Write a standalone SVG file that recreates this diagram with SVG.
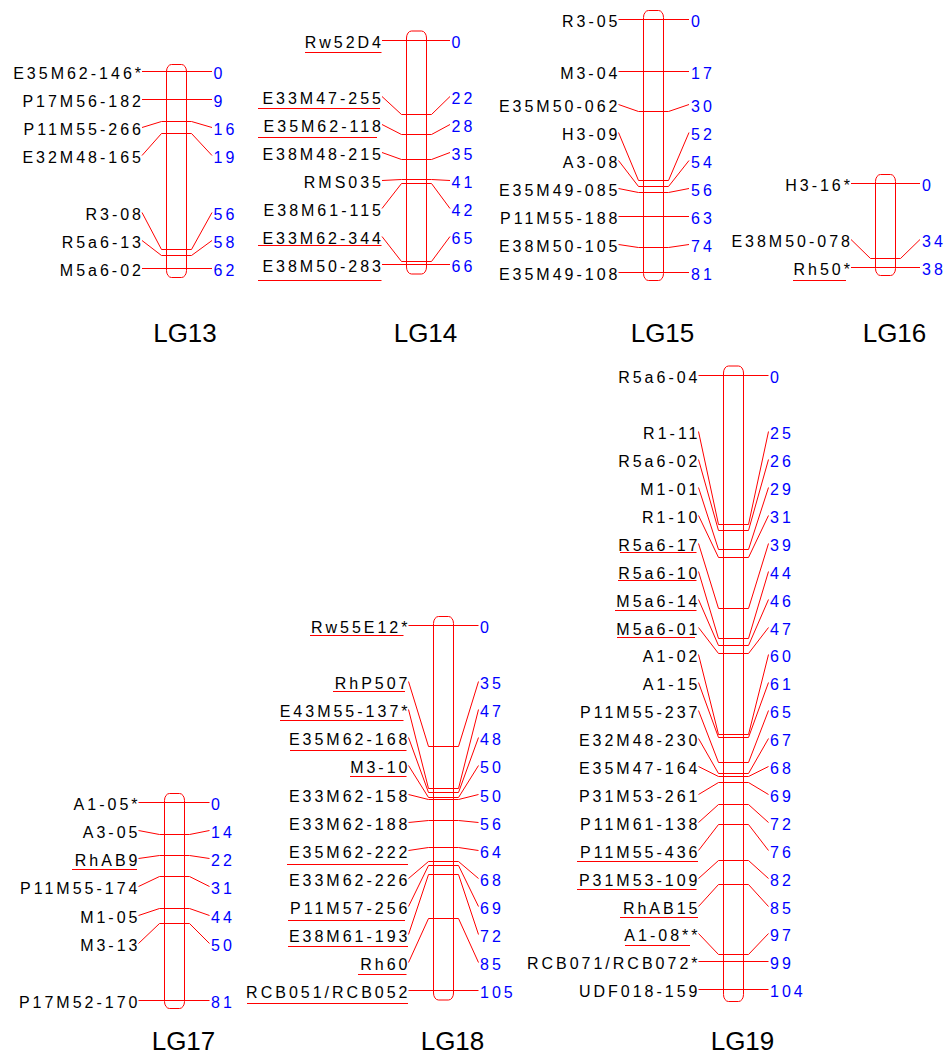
<svg xmlns="http://www.w3.org/2000/svg" width="949" height="1055" viewBox="0 0 949 1055">
<style>
.bar{fill:none;stroke:#ff0000;stroke-width:1}
.c polyline{fill:none;stroke:#ff0000;stroke-width:1}
.u{stroke:#ff0000;stroke-width:1.2}
text{font-family:"Liberation Sans",Arial,sans-serif}
.lb{font-size:16px;letter-spacing:3px;fill:#000;text-anchor:end}
.nm{font-size:16px;letter-spacing:3px;fill:#0000ff}
.tt{font-size:26px;fill:#000;text-anchor:middle}
</style>
<rect width="949" height="1055" fill="#fff"/>

<!-- LG13 -->
<g id="lg13">
<rect class="bar" x="166.5" y="64.5" width="20" height="213" rx="5" ry="7"/>
<text class="tt" x="185" y="342">LG13</text>
<text class="lb" x="144" y="78.5">E35M62-146*</text><text class="nm" x="213.5" y="78.5">0</text>
<text class="lb" x="144" y="106.5">P17M56-182</text><text class="nm" x="213.5" y="106.5">9</text>
<text class="lb" x="144" y="134.5">P11M55-266</text><text class="nm" x="213.5" y="134.5">16</text>
<text class="lb" x="144" y="162.5">E32M48-165</text><text class="nm" x="213.5" y="162.5">19</text>
<text class="lb" x="144" y="219.5">R3-08</text><text class="nm" x="213.5" y="219.5">56</text>
<text class="lb" x="144" y="247.5">R5a6-13</text><text class="nm" x="213.5" y="247.5">58</text>
<text class="lb" x="144" y="275.5">M5a6-02</text><text class="nm" x="213.5" y="275.5">62</text>
</g>

<!-- LG14 -->
<g id="lg14">
<rect class="bar" x="406.5" y="31" width="20" height="243" rx="5" ry="7"/>
<text class="tt" x="425.5" y="342">LG14</text>
<text class="lb" x="384" y="47.5">Rw52D4</text><text class="nm" x="451.5" y="47.5">0</text>
<text class="lb" x="384" y="103.5">E33M47-255</text><text class="nm" x="451.5" y="103.5">22</text>
<text class="lb" x="384" y="131.5">E35M62-118</text><text class="nm" x="451.5" y="131.5">28</text>
<text class="lb" x="384" y="159.5">E38M48-215</text><text class="nm" x="451.5" y="159.5">35</text>
<text class="lb" x="384" y="187.5">RMS035</text><text class="nm" x="451.5" y="187.5">41</text>
<text class="lb" x="384" y="215.5">E38M61-115</text><text class="nm" x="451.5" y="215.5">42</text>
<text class="lb" x="384" y="243.5">E33M62-344</text><text class="nm" x="451.5" y="243.5">65</text>
<text class="lb" x="384" y="271.5">E38M50-283</text><text class="nm" x="451.5" y="271.5">66</text>
<line class="u" x1="305" y1="52.5" x2="381.5" y2="52.5"/>
<line class="u" x1="258" y1="108.5" x2="380" y2="108.5"/>
<line class="u" x1="258" y1="137.5" x2="377" y2="137.5"/>
<line class="u" x1="258" y1="245.5" x2="381.5" y2="245.5"/>
<line class="u" x1="258" y1="280.5" x2="381.5" y2="280.5"/>
</g>

<!-- LG15 -->
<g id="lg15">
<rect class="bar" x="643.5" y="10.5" width="20" height="270" rx="5" ry="7"/>
<text class="tt" x="662.5" y="342">LG15</text>
<text class="lb" x="620.5" y="26.5">R3-05</text><text class="nm" x="691" y="26.5">0</text>
<text class="lb" x="620.5" y="78.5">M3-04</text><text class="nm" x="691" y="78.5">17</text>
<text class="lb" x="620.5" y="111.5">E35M50-062</text><text class="nm" x="691" y="111.5">30</text>
<text class="lb" x="620.5" y="139.5">H3-09</text><text class="nm" x="691" y="139.5">52</text>
<text class="lb" x="620.5" y="167.5">A3-08</text><text class="nm" x="691" y="167.5">54</text>
<text class="lb" x="620.5" y="195.5">E35M49-085</text><text class="nm" x="691" y="195.5">56</text>
<text class="lb" x="620.5" y="223.5">P11M55-188</text><text class="nm" x="691" y="223.5">63</text>
<text class="lb" x="620.5" y="251.5">E38M50-105</text><text class="nm" x="691" y="251.5">74</text>
<text class="lb" x="620.5" y="279.5">E35M49-108</text><text class="nm" x="691" y="279.5">81</text>
</g>

<!-- LG16 -->
<g id="lg16">
<rect class="bar" x="875.5" y="174.5" width="20" height="101" rx="5" ry="7"/>
<text class="tt" x="894.5" y="342">LG16</text>
<text class="lb" x="853" y="190.5">H3-16*</text><text class="nm" x="922" y="190.5">0</text>
<text class="lb" x="853" y="246.5">E38M50-078</text><text class="nm" x="922" y="246.5">34</text>
<text class="lb" x="853" y="274.5">Rh50*</text><text class="nm" x="922" y="274.5">38</text>
<line class="u" x1="793" y1="280.5" x2="846" y2="280.5"/>
</g>

<!-- LG17 -->
<g id="lg17">
<rect class="bar" x="164.5" y="793.5" width="20" height="215" rx="5" ry="7"/>
<text class="tt" x="183.5" y="1050">LG17</text>
<text class="lb" x="140.5" y="809.5">A1-05*</text><text class="nm" x="211" y="809.5">0</text>
<text class="lb" x="140.5" y="837.5">A3-05</text><text class="nm" x="211" y="837.5">14</text>
<text class="lb" x="140.5" y="865.5">RhAB9</text><text class="nm" x="211" y="865.5">22</text>
<text class="lb" x="140.5" y="893.5">P11M55-174</text><text class="nm" x="211" y="893.5">31</text>
<text class="lb" x="140.5" y="922.5">M1-05</text><text class="nm" x="211" y="922.5">44</text>
<text class="lb" x="140.5" y="950.5">M3-13</text><text class="nm" x="211" y="950.5">50</text>
<text class="lb" x="140.5" y="1007.5">P17M52-170</text><text class="nm" x="211" y="1007.5">81</text>
<line class="u" x1="72" y1="869.5" x2="137" y2="869.5"/>
</g>

<!-- LG18 -->
<g id="lg18">
<rect class="bar" x="433.5" y="616.5" width="20" height="383.5" rx="5" ry="7"/>
<text class="tt" x="452.5" y="1050">LG18</text>
<text class="lb" x="410.5" y="632.5">Rw55E12*</text><text class="nm" x="480" y="632.5">0</text>
<text class="lb" x="410.5" y="688.5">RhP507</text><text class="nm" x="480" y="688.5">35</text>
<text class="lb" x="410.5" y="716.5">E43M55-137*</text><text class="nm" x="480" y="716.5">47</text>
<text class="lb" x="410.5" y="744.5">E35M62-168</text><text class="nm" x="480" y="744.5">48</text>
<text class="lb" x="410.5" y="772.5">M3-10</text><text class="nm" x="480" y="772.5">50</text>
<text class="lb" x="410.5" y="801.5">E33M62-158</text><text class="nm" x="480" y="801.5">50</text>
<text class="lb" x="410.5" y="829.5">E33M62-188</text><text class="nm" x="480" y="829.5">56</text>
<text class="lb" x="410.5" y="857.5">E35M62-222</text><text class="nm" x="480" y="857.5">64</text>
<text class="lb" x="410.5" y="885.5">E33M62-226</text><text class="nm" x="480" y="885.5">68</text>
<text class="lb" x="410.5" y="913.5">P11M57-256</text><text class="nm" x="480" y="913.5">69</text>
<text class="lb" x="410.5" y="941.5">E38M61-193</text><text class="nm" x="480" y="941.5">72</text>
<text class="lb" x="410.5" y="969.5">Rh60</text><text class="nm" x="480" y="969.5">85</text>
<text class="lb" x="410.5" y="997.5">RCB051/RCB052</text><text class="nm" x="480" y="997.5">105</text>
<line class="u" x1="310" y1="635.5" x2="403.5" y2="635.5"/>
<line class="u" x1="333" y1="691.5" x2="405" y2="691.5"/>
<line class="u" x1="280" y1="720.5" x2="403.5" y2="720.5"/>
<line class="u" x1="290" y1="750.5" x2="406.5" y2="750.5"/>
<line class="u" x1="350" y1="776.5" x2="406.5" y2="776.5"/>
<line class="u" x1="287" y1="864.5" x2="408" y2="864.5"/>
<line class="u" x1="288" y1="920.5" x2="405" y2="920.5"/>
<line class="u" x1="288" y1="946.5" x2="408" y2="946.5"/>
<line class="u" x1="358" y1="974.5" x2="406.5" y2="974.5"/>
<line class="u" x1="247" y1="1003.5" x2="408" y2="1003.5"/>
</g>

<!-- LG19 -->
<g id="lg19">
<rect class="bar" x="723.5" y="366" width="20" height="635.5" rx="5" ry="7"/>
<text class="tt" x="742.5" y="1050">LG19</text>
<text class="lb" x="700.5" y="382.5">R5a6-04</text><text class="nm" x="770" y="382.5">0</text>
<text class="lb" x="700.5" y="438.5">R1-11</text><text class="nm" x="770" y="438.5">25</text>
<text class="lb" x="700.5" y="466.5">R5a6-02</text><text class="nm" x="770" y="466.5">26</text>
<text class="lb" x="700.5" y="494.5">M1-01</text><text class="nm" x="770" y="494.5">29</text>
<text class="lb" x="700.5" y="522.5">R1-10</text><text class="nm" x="770" y="522.5">31</text>
<text class="lb" x="700.5" y="550.5">R5a6-17</text><text class="nm" x="770" y="550.5">39</text>
<text class="lb" x="700.5" y="578.5">R5a6-10</text><text class="nm" x="770" y="578.5">44</text>
<text class="lb" x="700.5" y="606.5">M5a6-14</text><text class="nm" x="770" y="606.5">46</text>
<text class="lb" x="700.5" y="634.5">M5a6-01</text><text class="nm" x="770" y="634.5">47</text>
<text class="lb" x="700.5" y="661.5">A1-02</text><text class="nm" x="770" y="661.5">60</text>
<text class="lb" x="700.5" y="689.5">A1-15</text><text class="nm" x="770" y="689.5">61</text>
<text class="lb" x="700.5" y="717.5">P11M55-237</text><text class="nm" x="770" y="717.5">65</text>
<text class="lb" x="700.5" y="745.5">E32M48-230</text><text class="nm" x="770" y="745.5">67</text>
<text class="lb" x="700.5" y="773.5">E35M47-164</text><text class="nm" x="770" y="773.5">68</text>
<text class="lb" x="700.5" y="801.5">P31M53-261</text><text class="nm" x="770" y="801.5">69</text>
<text class="lb" x="700.5" y="829.5">P11M61-138</text><text class="nm" x="770" y="829.5">72</text>
<text class="lb" x="700.5" y="857.5">P11M55-436</text><text class="nm" x="770" y="857.5">76</text>
<text class="lb" x="700.5" y="885.5">P31M53-109</text><text class="nm" x="770" y="885.5">82</text>
<text class="lb" x="700.5" y="913.5">RhAB15</text><text class="nm" x="770" y="913.5">85</text>
<text class="lb" x="700.5" y="940.5">A1-08**</text><text class="nm" x="770" y="940.5">97</text>
<text class="lb" x="700.5" y="968.5">RCB071/RCB072*</text><text class="nm" x="770" y="968.5">99</text>
<text class="lb" x="700.5" y="996.5">UDF018-159</text><text class="nm" x="770" y="996.5">104</text>
<line class="u" x1="620" y1="552.5" x2="696.5" y2="552.5"/>
<line class="u" x1="618" y1="580.5" x2="696.5" y2="580.5"/>
<line class="u" x1="615" y1="610.5" x2="696.5" y2="610.5"/>
<line class="u" x1="617" y1="637.5" x2="695" y2="637.5"/>
<line class="u" x1="577" y1="861.5" x2="698" y2="861.5"/>
<line class="u" x1="577" y1="889.5" x2="696.5" y2="889.5"/>
<line class="u" x1="620" y1="917.5" x2="698" y2="917.5"/>
<line class="u" x1="625" y1="945.5" x2="690" y2="945.5"/>
</g>

<g id="connectors" class="c">
<!-- LG13 -->
<polyline points="142,71.5 212,71.5"/>
<polyline points="142,99.5 212,99.5"/>
<polyline points="142,127.5 161.5,121.5 191.5,121.5 212,127.5"/>
<polyline points="142,155.5 161.5,133.5 191.5,133.5 212,155.5"/>
<polyline points="142,212.5 161.5,249.5 191.5,249.5 212,212.5"/>
<polyline points="142,240.5 161.5,255.5 191.5,255.5 212,240.5"/>
<polyline points="142,268.5 212,268.5"/>
<!-- LG14 -->
<polyline points="382,40.5 450,40.5"/>
<polyline points="382,96.5 401.5,114.5 431.5,114.5 450,96.5"/>
<polyline points="382,124.5 401.5,134.5 431.5,134.5 450,124.5"/>
<polyline points="382,152.5 401.5,159.5 431.5,159.5 450,152.5"/>
<polyline points="382,180.5 401.5,179.5 431.5,179.5 450,180.5"/>
<polyline points="382,208.5 401.5,183.5 431.5,183.5 450,208.5"/>
<polyline points="382,236.5 401.5,261.5 431.5,261.5 450,236.5"/>
<polyline points="382,264.5 450,264.5"/>
<!-- LG15 -->
<polyline points="618.5,19.5 689,19.5"/>
<polyline points="618.5,71.5 689,71.5"/>
<polyline points="618.5,104.5 638.5,111.5 668.5,111.5 689,104.5"/>
<polyline points="618.5,132.5 638.5,180.5 668.5,180.5 689,132.5"/>
<polyline points="618.5,160.5 638.5,186.5 668.5,186.5 689,160.5"/>
<polyline points="618.5,188.5 638.5,192.5 668.5,192.5 689,188.5"/>
<polyline points="618.5,216.5 689,216.5"/>
<polyline points="618.5,244.5 638.5,247.5 668.5,247.5 689,244.5"/>
<polyline points="618.5,272.5 689,272.5"/>
<!-- LG16 -->
<polyline points="851,183.5 920,183.5"/>
<polyline points="851,239.5 870.5,258.5 900.5,258.5 920,239.5"/>
<polyline points="851,267.5 920,267.5"/>
<!-- LG17 -->
<polyline points="138.5,802.5 209.5,802.5"/>
<polyline points="138.5,830.5 159.5,834.5 189.5,834.5 209.5,830.5"/>
<polyline points="138.5,858.5 159.5,855.5 189.5,855.5 209.5,858.5"/>
<polyline points="138.5,886.5 159.5,876.5 189.5,876.5 209.5,886.5"/>
<polyline points="138.5,915.5 159.5,908.5 189.5,908.5 209.5,915.5"/>
<polyline points="138.5,943.5 159.5,923.5 189.5,923.5 209.5,943.5"/>
<polyline points="138.5,1000.5 209.5,1000.5"/>
<!-- LG18 -->
<polyline points="408.5,625.5 478.5,625.5"/>
<polyline points="408.5,681.5 428.5,746.5 458.5,746.5 478.5,681.5"/>
<polyline points="408.5,709.5 428.5,788.5 458.5,788.5 478.5,709.5"/>
<polyline points="408.5,737.5 428.5,792.5 458.5,792.5 478.5,737.5"/>
<polyline points="408.5,765.5 428.5,797.5 458.5,797.5 478.5,765.5"/>
<polyline points="408.5,794.5 428.5,799.5 458.5,799.5 478.5,794.5"/>
<polyline points="408.5,822.5 428.5,820.5 458.5,820.5 478.5,822.5"/>
<polyline points="408.5,850.5 428.5,847.5 458.5,847.5 478.5,850.5"/>
<polyline points="408.5,878.5 428.5,861.5 458.5,861.5 478.5,878.5"/>
<polyline points="408.5,906.5 428.5,865.5 458.5,865.5 478.5,906.5"/>
<polyline points="408.5,934.5 428.5,874.5 458.5,874.5 478.5,934.5"/>
<polyline points="408.5,962.5 428.5,918.5 458.5,918.5 478.5,962.5"/>
<polyline points="408.5,990.5 478.5,990.5"/>
<!-- LG19 -->
<polyline points="698.5,375.5 768.5,375.5"/>
<polyline points="698.5,431.5 718.5,524.5 748.5,524.5 768.5,431.5"/>
<polyline points="698.5,459.5 718.5,530.5 748.5,530.5 768.5,459.5"/>
<polyline points="698.5,487.5 718.5,549.5 748.5,549.5 768.5,487.5"/>
<polyline points="698.5,515.5 718.5,557.5 748.5,557.5 768.5,515.5"/>
<polyline points="698.5,543.5 718.5,608.5 748.5,608.5 768.5,543.5"/>
<polyline points="698.5,571.5 718.5,638.5 748.5,638.5 768.5,571.5"/>
<polyline points="698.5,599.5 718.5,645.5 748.5,645.5 768.5,599.5"/>
<polyline points="698.5,627.5 718.5,653.5 748.5,653.5 768.5,627.5"/>
<polyline points="698.5,654.5 718.5,734.5 748.5,734.5 768.5,654.5"/>
<polyline points="698.5,682.5 718.5,737.5 748.5,737.5 768.5,682.5"/>
<polyline points="698.5,710.5 718.5,762.5 748.5,762.5 768.5,710.5"/>
<polyline points="698.5,738.5 718.5,773.5 748.5,773.5 768.5,738.5"/>
<polyline points="698.5,766.5 718.5,776.5 748.5,776.5 768.5,766.5"/>
<polyline points="698.5,794.5 718.5,782.5 748.5,782.5 768.5,794.5"/>
<polyline points="698.5,822.5 718.5,804.5 748.5,804.5 768.5,822.5"/>
<polyline points="698.5,850.5 718.5,824.5 748.5,824.5 768.5,850.5"/>
<polyline points="698.5,878.5 718.5,860.5 748.5,860.5 768.5,878.5"/>
<polyline points="698.5,906.5 718.5,884.5 748.5,884.5 768.5,906.5"/>
<polyline points="698.5,933.5 718.5,954.5 748.5,954.5 768.5,933.5"/>
<polyline points="698.5,961.5 768.5,961.5"/>
<polyline points="698.5,989.5 768.5,989.5"/>
</g>
</svg>
